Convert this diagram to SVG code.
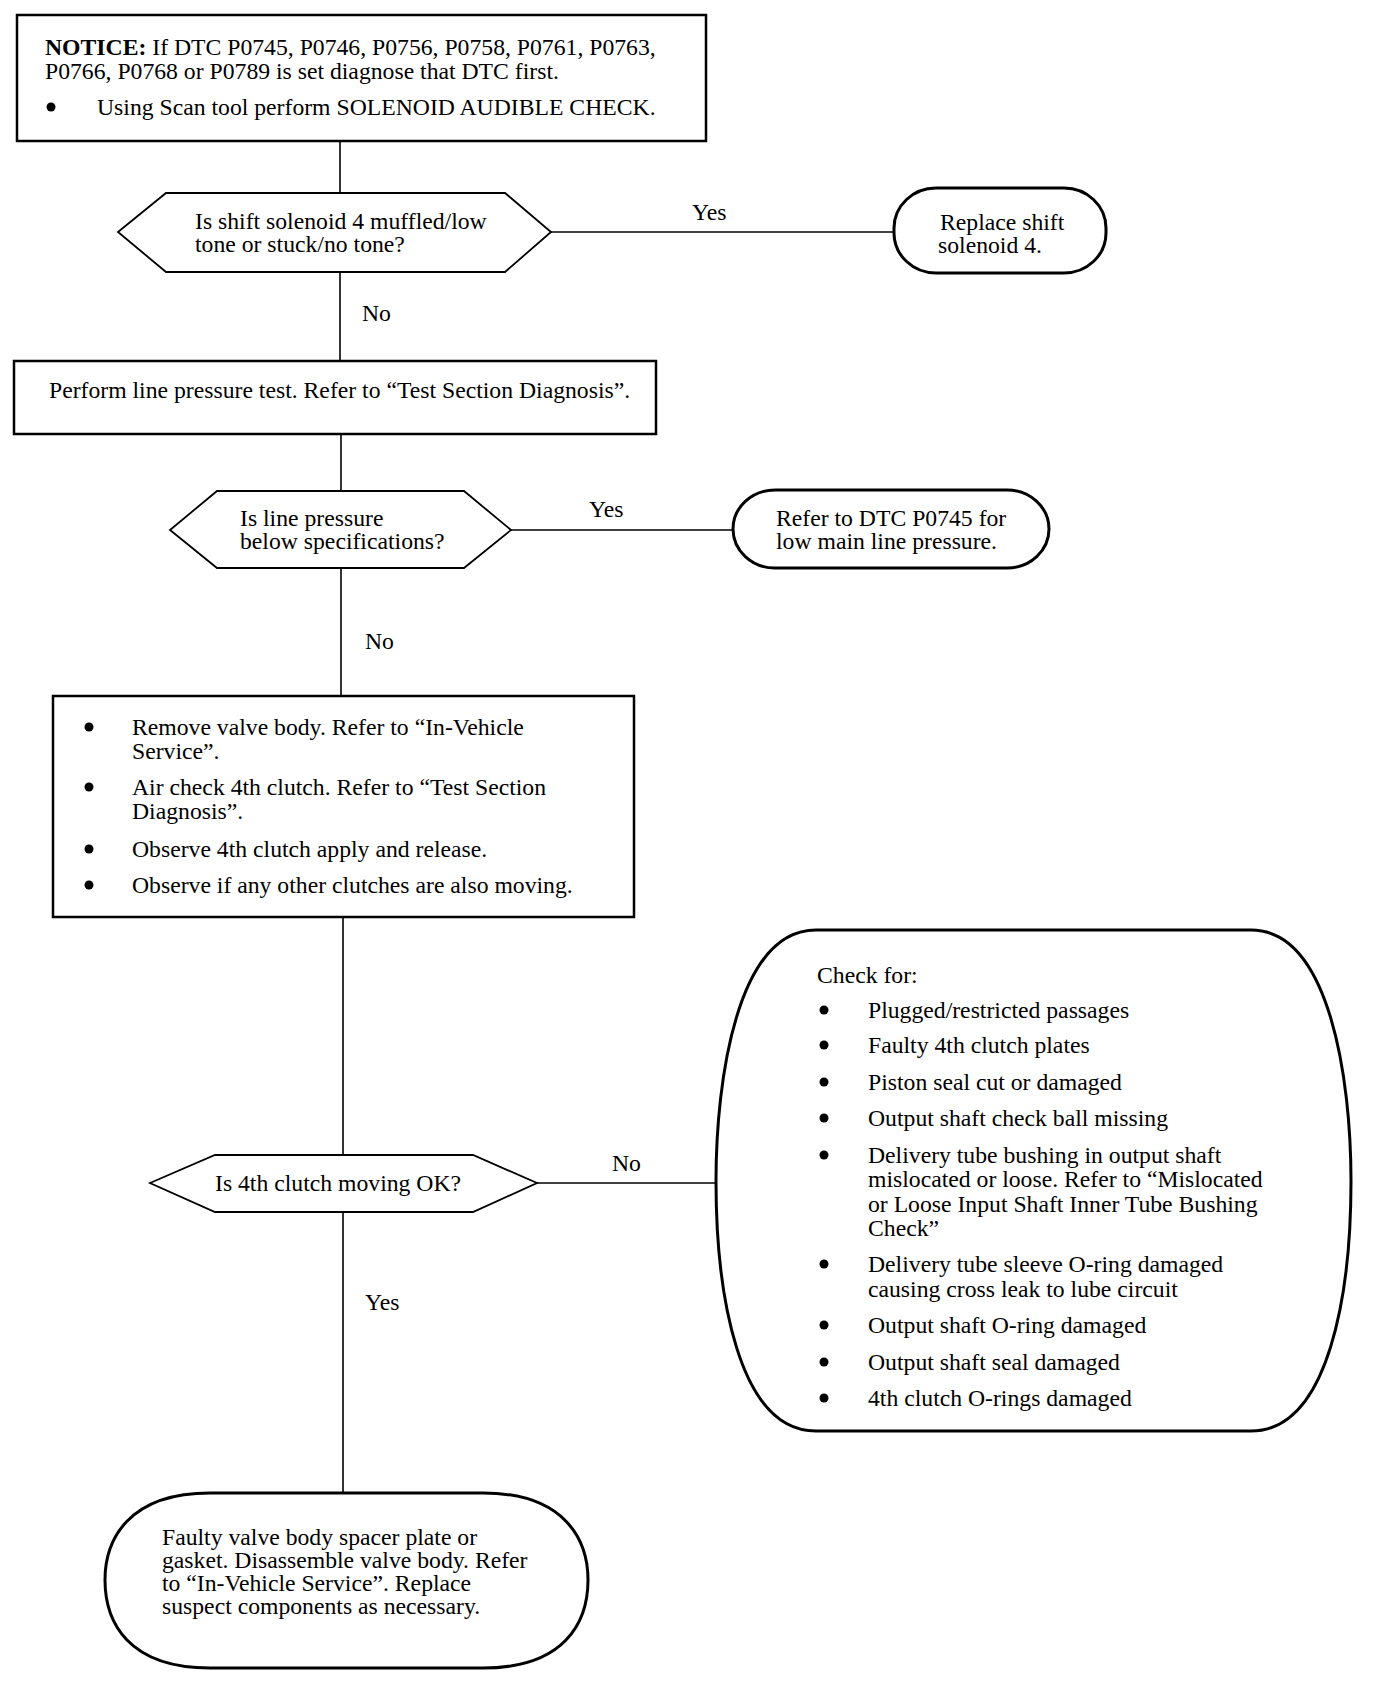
<svg xmlns="http://www.w3.org/2000/svg" width="1392" height="1684" viewBox="0 0 1392 1684">
<style>
text{font-family:"Liberation Serif","Times New Roman",serif;font-size:23.7px;fill:#000}
.b{font-weight:bold}
.box{fill:#fff;stroke:#000;stroke-width:2.5}
.term{fill:#fff;stroke:#000;stroke-width:3}
.dec{fill:#fff;stroke:#000;stroke-width:1.8}
.con line{stroke:#000;stroke-width:1.6}
</style>
<rect width="1392" height="1684" fill="#fff"/>
<g class="con" id="connectors">
<line x1="340" y1="141" x2="340" y2="193"/>
<line x1="551" y1="232" x2="894" y2="232"/>
<line x1="340" y1="272" x2="340" y2="361"/>
<line x1="341" y1="434" x2="341" y2="491"/>
<line x1="511" y1="530" x2="733" y2="530"/>
<line x1="341" y1="568" x2="341" y2="696"/>
<line x1="343" y1="917" x2="343" y2="1155"/>
<line x1="537" y1="1183" x2="716" y2="1183"/>
<line x1="343" y1="1212" x2="343" y2="1493"/>
<text x="692" y="220">Yes</text>
<text x="362" y="321">No</text>
<text x="589" y="517">Yes</text>
<text x="365" y="649">No</text>
<text x="612" y="1171">No</text>
<text x="365" y="1310">Yes</text>
</g>
<g id="notice">
<rect class="box" x="17" y="15" width="689" height="126"/>
<text x="45" y="55"><tspan class="b">NOTICE:</tspan> If DTC P0745, P0746, P0756, P0758, P0761, P0763,</text>
<text x="45" y="79">P0766, P0768 or P0789 is set diagnose that DTC first.</text>
<circle cx="51" cy="107" r="4.5"/>
<text x="97" y="115">Using Scan tool perform SOLENOID AUDIBLE CHECK.</text>
</g>
<g id="d1">
<polygon class="dec" points="118,232 166,193 505,193 551,232 505,272 166,272"/>
<text x="195" y="229">Is shift solenoid 4 muffled/low</text>
<text x="195" y="252">tone or stuck/no tone?</text>
</g>
<g id="t1">
<rect class="term" x="894" y="188" width="212" height="85" rx="42" ry="40"/>
<text x="940" y="230">Replace shift</text>
<text x="938" y="253">solenoid 4.</text>
</g>
<g id="box2">
<rect class="box" x="14" y="361" width="642" height="73"/>
<text x="49" y="398">Perform line pressure test. Refer to “Test Section Diagnosis”.</text>
</g>
<g id="d2">
<polygon class="dec" points="170,530 217,491 464,491 511,530 464,568 217,568"/>
<text x="240" y="526">Is line pressure</text>
<text x="240" y="549">below specifications?</text>
</g>
<g id="t2">
<rect class="term" x="733" y="490" width="316" height="78" rx="42" ry="39"/>
<text x="776" y="526">Refer to DTC P0745 for</text>
<text x="776" y="549">low main line pressure.</text>
</g>
<g id="box3">
<rect class="box" x="53" y="696" width="581" height="221"/>
<circle cx="89" cy="727" r="4.5"/>
<text x="132" y="735">Remove valve body. Refer to “In-Vehicle</text>
<text x="132" y="759">Service”.</text>
<circle cx="89" cy="787" r="4.5"/>
<text x="132" y="795">Air check 4th clutch. Refer to “Test Section</text>
<text x="132" y="819">Diagnosis”.</text>
<circle cx="89" cy="849" r="4.5"/>
<text x="132" y="857">Observe 4th clutch apply and release.</text>
<circle cx="89" cy="885" r="4.5"/>
<text x="132" y="893">Observe if any other clutches are also moving.</text>
</g>
<g id="d3">
<polygon class="dec" points="150,1183 215,1155 473,1155 537,1183 473,1212 215,1212"/>
<text x="215" y="1191">Is 4th clutch moving OK?</text>
</g>
<g id="t3">
<path class="term" d="M816,930 L1251,930 C1330,930 1351,1080 1351,1181 C1351,1290 1330,1431 1251,1431 L816,1431 C737,1431 716,1290 716,1181 C716,1080 737,930 816,930 Z"/>
<text x="817" y="983">Check for:</text>
<circle cx="824" cy="1010" r="4.5"/>
<text x="868" y="1018">Plugged/restricted passages</text>
<circle cx="824" cy="1045" r="4.5"/>
<text x="868" y="1053">Faulty 4th clutch plates</text>
<circle cx="824" cy="1082" r="4.5"/>
<text x="868" y="1090">Piston seal cut or damaged</text>
<circle cx="824" cy="1118" r="4.5"/>
<text x="868" y="1126">Output shaft check ball missing</text>
<circle cx="824" cy="1155" r="4.5"/>
<text x="868" y="1163">Delivery tube bushing in output shaft</text>
<text x="868" y="1187">mislocated or loose. Refer to “Mislocated</text>
<text x="868" y="1212">or Loose Input Shaft Inner Tube Bushing</text>
<text x="868" y="1236">Check”</text>
<circle cx="824" cy="1264" r="4.5"/>
<text x="868" y="1272">Delivery tube sleeve O-ring damaged</text>
<text x="868" y="1297">causing cross leak to lube circuit</text>
<circle cx="824" cy="1325" r="4.5"/>
<text x="868" y="1333">Output shaft O-ring damaged</text>
<circle cx="824" cy="1362" r="4.5"/>
<text x="868" y="1370">Output shaft seal damaged</text>
<circle cx="824" cy="1398" r="4.5"/>
<text x="868" y="1406">4th clutch O-rings damaged</text>
</g>
<g id="t4">
<path class="term" d="M210,1493 L483,1493 C565,1493 588,1540 588,1580 C588,1622 565,1668 483,1668 L210,1668 C128,1668 105,1622 105,1580 C105,1540 128,1493 210,1493 Z"/>
<text x="162" y="1545">Faulty valve body spacer plate or</text>
<text x="162" y="1568">gasket. Disassemble valve body. Refer</text>
<text x="162" y="1591">to “In-Vehicle Service”. Replace</text>
<text x="162" y="1614">suspect components as necessary.</text>
</g>
</svg>
